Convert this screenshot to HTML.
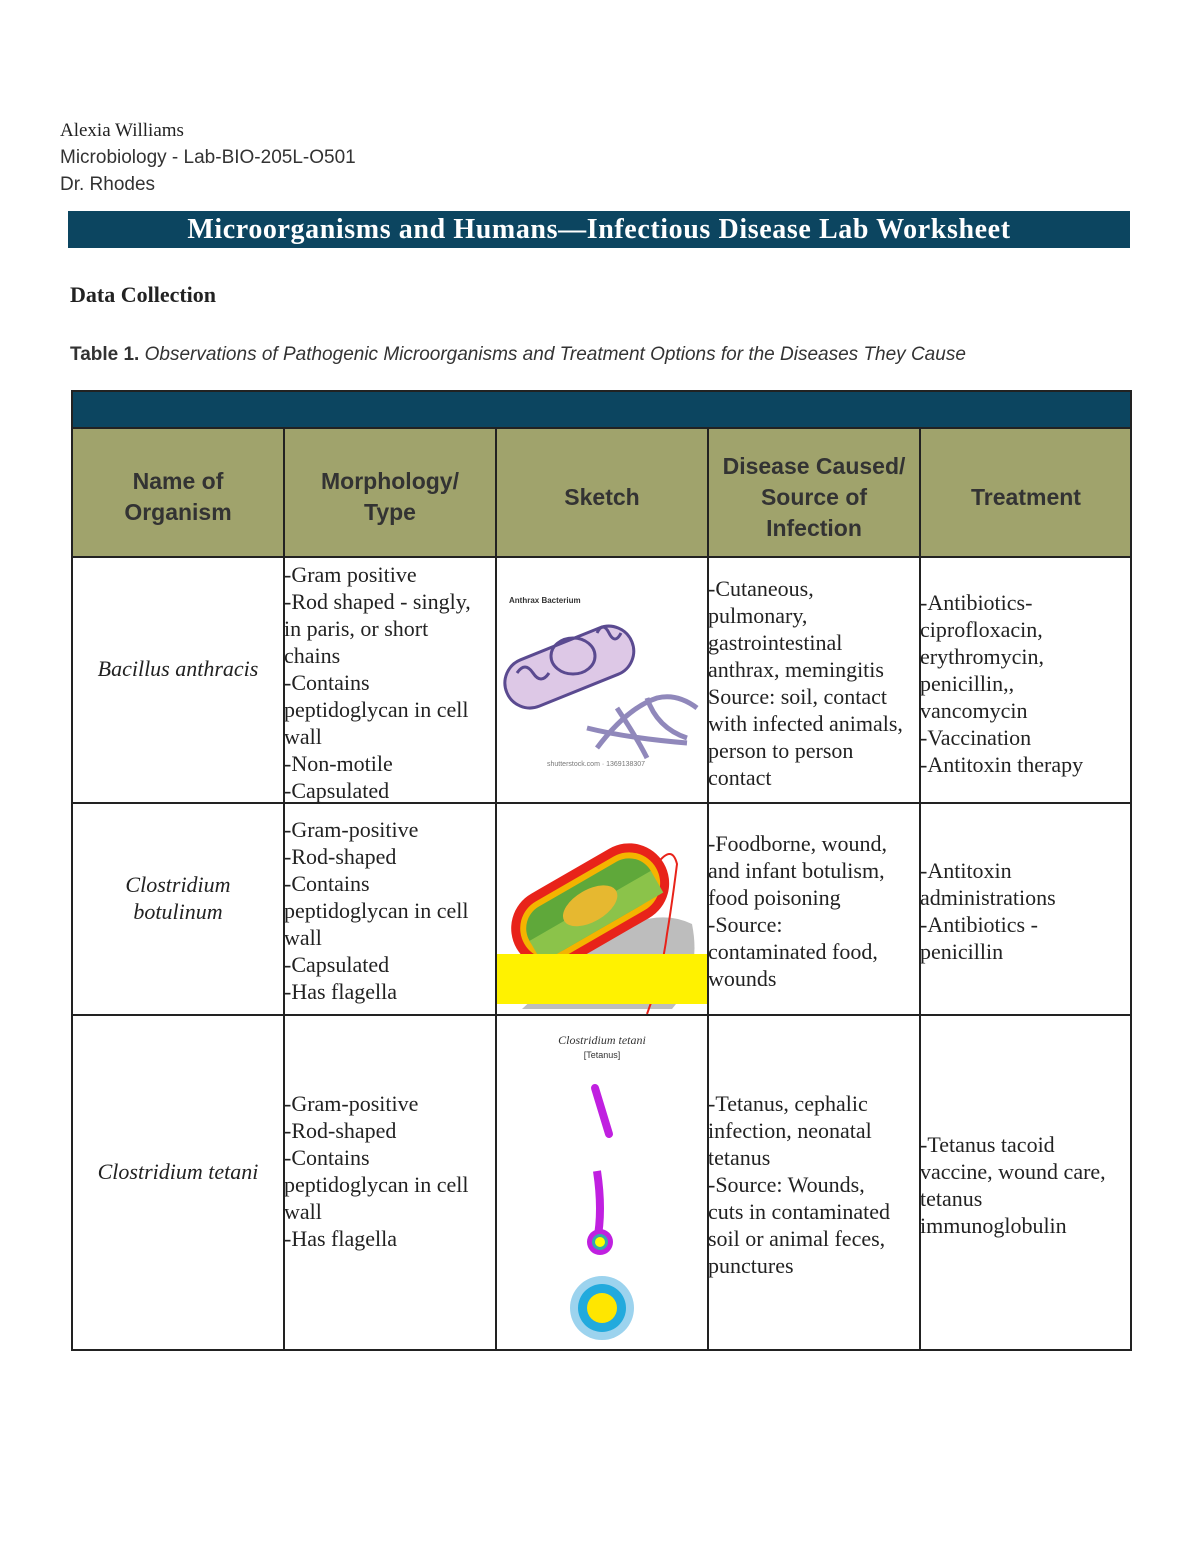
<!DOCTYPE html>
<html><head><meta charset="utf-8"><style>
body{margin:0;background:#fff;}
#p{position:relative;width:1200px;height:1553px;overflow:hidden;font-family:"Liberation Sans",sans-serif;}
.a{position:absolute;}
.t{font-family:"Liberation Serif",serif;font-size:22px;line-height:27px;color:#222;white-space:nowrap;}
.h{font-family:"Liberation Sans",sans-serif;font-size:23px;font-weight:bold;color:#333;text-align:center;line-height:31px;}
.v{position:absolute;background:#222;width:2px;}
.hz{position:absolute;background:#222;height:2px;}
</style></head><body><div id="p">
<div class="a" style="left:60px;top:120px;font-family:'Liberation Serif',serif;font-size:19px;color:#222;">Alexia Williams</div>
<div class="a" style="left:60px;top:147px;font-size:19px;color:#333;">Microbiology - Lab-BIO-205L-O501</div>
<div class="a" style="left:60px;top:174px;font-size:19px;color:#333;">Dr. Rhodes</div>
<div class="a" style="left:68px;top:211px;width:1062px;height:37px;background:#0c4560;color:#fff;font-family:'Liberation Serif',serif;font-weight:bold;font-size:28px;letter-spacing:0.6px;text-align:center;line-height:38px;">Microorganisms and Humans—Infectious Disease Lab Worksheet</div>
<div class="a" style="left:70px;top:282px;font-family:'Liberation Serif',serif;font-weight:bold;font-size:22px;color:#222;">Data Collection</div>
<div class="a" style="left:70px;top:344px;font-size:19px;color:#333;"><b>Table 1.</b> <i>Observations of Pathogenic Microorganisms and Treatment Options for the Diseases They Cause</i></div>

<div class="a" style="left:71px;top:391px;width:1060px;height:37px;background:#0c4560;"></div>
<div class="a" style="left:71px;top:428px;width:1060px;height:129px;background:#a0a36c;"></div>
<div class="hz" style="left:71px;top:390px;width:1061px;"></div>
<div class="hz" style="left:71px;top:427px;width:1061px;"></div>
<div class="hz" style="left:71px;top:556px;width:1061px;"></div>
<div class="hz" style="left:71px;top:802px;width:1061px;"></div>
<div class="hz" style="left:71px;top:1014px;width:1061px;"></div>
<div class="hz" style="left:71px;top:1349px;width:1061px;"></div>
<div class="v" style="left:71px;top:390px;height:961px;"></div>
<div class="v" style="left:1130px;top:390px;height:961px;"></div>
<div class="v" style="left:283px;top:428px;height:923px;"></div>
<div class="v" style="left:495px;top:428px;height:923px;"></div>
<div class="v" style="left:707px;top:428px;height:923px;"></div>
<div class="v" style="left:919px;top:428px;height:923px;"></div>

<div class="a h" style="left:73px;top:466px;width:210px;">Name of<br>Organism</div>
<div class="a h" style="left:285px;top:466px;width:210px;">Morphology/<br>Type</div>
<div class="a h" style="left:497px;top:482px;width:210px;">Sketch</div>
<div class="a h" style="left:709px;top:451px;width:210px;">Disease Caused/<br>Source of<br>Infection</div>
<div class="a h" style="left:921px;top:482px;width:210px;">Treatment</div>

<div class="a t" style="left:73px;width:210px;text-align:center;top:655px;font-style:italic;">Bacillus anthracis</div>
<div class="a t" style="left:73px;width:210px;text-align:center;top:871px;font-style:italic;">Clostridium<br>botulinum</div>
<div class="a t" style="left:73px;width:210px;text-align:center;top:1158px;font-style:italic;">Clostridium tetani</div>

<div class="a t" style="left:284px;top:561px;">-Gram positive<br>-Rod shaped - singly,<br>in paris, or short<br>chains<br>-Contains<br>peptidoglycan in cell<br>wall<br>-Non-motile<br>-Capsulated</div>
<div class="a t" style="left:284px;top:816px;">-Gram-positive<br>-Rod-shaped<br>-Contains<br>peptidoglycan in cell<br>wall<br>-Capsulated<br>-Has flagella</div>
<div class="a t" style="left:284px;top:1090px;">-Gram-positive<br>-Rod-shaped<br>-Contains<br>peptidoglycan in cell<br>wall<br>-Has flagella</div>

<div class="a t" style="left:708px;top:575px;">-Cutaneous,<br>pulmonary,<br>gastrointestinal<br>anthrax, memingitis<br>Source: soil, contact<br>with infected animals,<br>person to person<br>contact</div>
<div class="a t" style="left:708px;top:830px;">-Foodborne, wound,<br>and infant botulism,<br>food poisoning<br>-Source:<br>contaminated food,<br>wounds</div>
<div class="a t" style="left:708px;top:1090px;">-Tetanus, cephalic<br>infection, neonatal<br>tetanus<br>-Source: Wounds,<br>cuts in contaminated<br>soil or animal feces,<br>punctures</div>

<div class="a t" style="left:920px;top:589px;">-Antibiotics-<br>ciprofloxacin,<br>erythromycin,<br>penicillin,,<br>vancomycin<br>-Vaccination<br>-Antitoxin therapy</div>
<div class="a t" style="left:920px;top:857px;">-Antitoxin<br>administrations<br>-Antibiotics -<br>penicillin</div>
<div class="a t" style="left:920px;top:1131px;">-Tetanus tacoid<br>vaccine, wound care,<br>tetanus<br>immunoglobulin</div>

<svg class="a" style="left:497px;top:558px" width="210" height="244">
<text x="12" y="45" font-size="8" font-weight="bold" fill="#333">Anthrax Bacterium</text>
<g transform="rotate(-22 70 110)"><rect x="5" y="85" width="135" height="50" rx="25" fill="#ddc8e6" stroke="#5a4a90" stroke-width="3"/></g>
<ellipse cx="76" cy="98" rx="22" ry="18" fill="none" stroke="#5a4a90" stroke-width="3"/>
<path d="M20 115 q8-12 16 0 q8 12 16 0 M100 75 q6-12 12 0 q6 12 12 0" fill="none" stroke="#5a4a90" stroke-width="3"/>
<path d="M100 190 q30-40 60-50 q20-5 40 10 M120 150 q20 30 30 50 M150 140 q10 30 40 40 M90 170 q40 10 100 15" fill="none" stroke="#9088bb" stroke-width="5"/>
<text x="50" y="208" font-size="7" fill="#777">shutterstock.com · 1369138307</text>
</svg>
<svg class="a" style="left:497px;top:804px" width="210" height="210">
<path d="M95 140 q60-40 100-20 q10 50-20 85 h-150z" fill="#bdbdbd"/>
<g transform="rotate(-30 95 95)"><rect x="5" y="60" width="170" height="80" rx="40" fill="#e8231a"/><rect x="14" y="69" width="152" height="62" rx="31" fill="#f4b400"/><rect x="20" y="75" width="140" height="50" rx="25" fill="#5fa83a"/><rect x="20" y="100" width="140" height="25" fill="#8bc34a"/><ellipse cx="90" cy="100" rx="30" ry="16" fill="#e6b830"/></g>
<path d="M160 60 q15-20 20 0 q-5 40-10 70 q-5 40 -20 80" fill="none" stroke="#e8231a" stroke-width="2"/>
<rect x="0" y="150" width="210" height="50" fill="#fff200"/>
</svg>
<svg class="a" style="left:497px;top:1016px" width="210" height="333">
<text x="105" y="28" font-size="12" font-style="italic" text-anchor="middle" fill="#333" font-family="Liberation Serif">Clostridium tetani</text>
<text x="105" y="42" font-size="9" text-anchor="middle" fill="#333">[Tetanus]</text>
<line x1="98" y1="72" x2="112" y2="118" stroke="#c020e0" stroke-width="8" stroke-linecap="round"/>
<path d="M100 155 q6 40 0 70" stroke="#c020e0" stroke-width="8" fill="none"/>
<circle cx="103" cy="226" r="13" fill="#c020e0"/><circle cx="103" cy="226" r="8" fill="#3aa"/><circle cx="103" cy="226" r="5" fill="#ff0"/>
<circle cx="105" cy="292" r="32" fill="#9cd3ee"/><circle cx="105" cy="292" r="24" fill="#22aadd"/><circle cx="105" cy="292" r="15" fill="#ffe600"/>
</svg>
</div></body></html>
